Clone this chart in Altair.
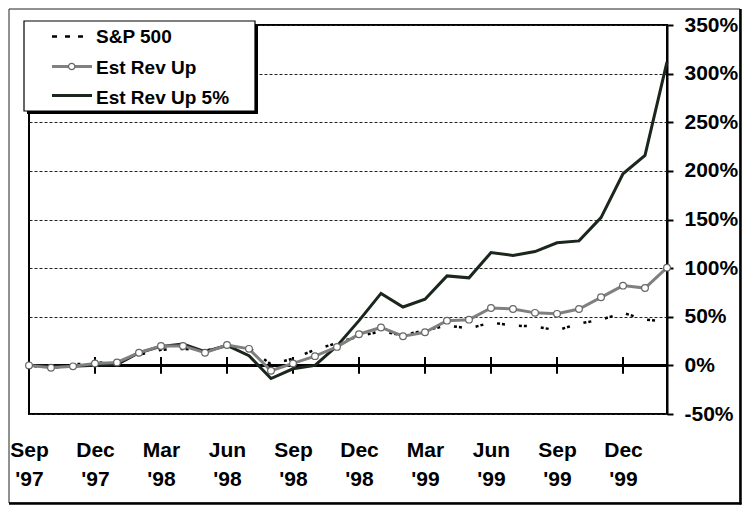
import altair as alt
import pandas as pd

months = ["Sep '97", "Oct '97", "Nov '97", "Dec '97", "Jan '98", "Feb '98", "Mar '98",
          "Apr '98", "May '98", "Jun '98", "Jul '98", "Aug '98", "Sep '98", "Oct '98",
          "Nov '98", "Dec '98", "Jan '99", "Feb '99", "Mar '99", "Apr '99", "May '99",
          "Jun '99", "Jul '99", "Aug '99", "Sep '99", "Oct '99", "Nov '99", "Dec '99",
          "Jan '00", "Feb '00"]
tick_months = ["Sep '97", "Dec '97", "Mar '98", "Jun '98", "Sep '98", "Dec '98",
               "Mar '99", "Jun '99", "Sep '99", "Dec '99"]
series_names = ["S&P 500", "Est Rev Up", "Est Rev Up 5%"]

sp500 = [0, -3, 1, 2.5, 3.5, 11, 16, 17, 15, 20, 18, 1, 7, 16, 23, 30, 35, 31, 36,
         41, 38, 44, 41, 40, 36, 43, 47, 54, 47, 45]
est_rev_up = [0, -2.5, -1, 2, 3, 13, 20, 20, 13, 21, 17, -5.5, 2, 9.5, 19, 32, 39, 30,
              34, 46, 47, 59, 58, 54, 53, 58, 70, 82, 79.5, 100.5]
est_rev_up_5 = [0, -1, -1, 0, 1, 13, 19.5, 22, 14, 20.5, 10, -13.5, -3.5, 0, 20, 46,
                74, 60, 68, 92, 90, 116, 113, 117, 126, 128, 152, 197, 216, 312]
y_ticks = [-50, 0, 50, 100, 150, 200, 250, 300, 350]

FONT = "Liberation Sans"
DARK = "#1b261c"
GRAY = "#808080"

df = pd.DataFrame({"month": months, "sp": sp500, "up": est_rev_up, "up5": est_rev_up_5})
ticks_df = pd.DataFrame({"month": tick_months})

x_scale = alt.Scale(type="point", domain=months, padding=0)
x_axis = alt.Axis(values=tick_months, labelExpr="split(datum.label, ' ')", labelAngle=0,
                  domain=False, ticks=False, tickSize=0, grid=False, labelFont=FONT,
                  labelFontSize=21, labelFontWeight="bold", labelColor="black",
                  labelPadding=25, labelLineHeight=29, title=None)
y_scale = alt.Scale(domain=[-50, 350], nice=False, zero=False)
y_axis = alt.Axis(orient="right", values=y_ticks, labelExpr="datum.value + '%'",
                  grid=True, gridDash=[3, 2], gridColor="#222222", gridWidth=1,
                  domain=True, domainColor="black", domainWidth=2,
                  ticks=True, tickColor="black", tickSize=6, tickWidth=2,
                  labelFont=FONT, labelFontSize=21, labelFontWeight="bold",
                  labelColor="black", labelPadding=11, title=None)


def X(field):
    return alt.X(field, scale=x_scale, axis=x_axis)


def Y(field):
    return alt.Y(field, scale=y_scale, axis=y_axis)


base = alt.Chart(df)

zero_line = alt.Chart(ticks_df).mark_rule(color="black", strokeWidth=2).encode(
    y=alt.datum(0)
)
tick_rules = alt.Chart(ticks_df).mark_rule(color="black", strokeWidth=2).encode(
    x=X("month:O"), y=alt.datum(-8.5), y2=alt.datum(8.5)
)

line5 = base.mark_line(color=DARK, strokeWidth=3).encode(x=X("month:O"), y=Y("up5:Q"))
line_sp = base.mark_line(color="black", strokeWidth=2.5, strokeDash=[3, 2, 3, 14]).encode(
    x=X("month:O"), y=Y("sp:Q"))
line_up = base.mark_line(color=GRAY, strokeWidth=3).encode(x=X("month:O"), y=Y("up:Q"))
pts_up = base.mark_point(shape="circle", filled=True, fill="white", stroke="#666666",
                         strokeWidth=1.2, size=45, opacity=1).encode(
    x=X("month:O"), y=Y("up:Q"))

# legend
one = pd.DataFrame({"k": [0]})
leg_shadow = alt.Chart(one).mark_rect(color="black").encode(
    x=alt.value(-2), x2=alt.value(229), y=alt.value(-1), y2=alt.value(89))
leg_box = alt.Chart(one).mark_rect(fill="white", stroke="black", strokeWidth=1.2).encode(
    x=alt.value(-5), x2=alt.value(226), y=alt.value(-4), y2=alt.value(86))
leg_sym1 = alt.Chart(one).mark_rule(color="black", strokeWidth=2.5, strokeDash=[5, 8]).encode(
    x=alt.value(23), x2=alt.value(56), y=alt.value(11.5))
leg_sym2 = alt.Chart(one).mark_rule(color=GRAY, strokeWidth=3).encode(
    x=alt.value(23), x2=alt.value(63), y=alt.value(41.5))
leg_pt2 = alt.Chart(one).mark_point(shape="circle", filled=True, fill="white", stroke="#666666",
                                    strokeWidth=1.2, size=40, opacity=1).encode(
    x=alt.value(42.7), y=alt.value(41.5))
leg_sym3 = alt.Chart(one).mark_rule(color=DARK, strokeWidth=3).encode(
    x=alt.value(23), x2=alt.value(63), y=alt.value(70.5))
leg_text = []
for name, yy in zip(series_names, [17.7, 49, 79]):
    leg_text.append(
        alt.Chart(pd.DataFrame({"label": [name]})).mark_text(
            font=FONT, fontSize=19, fontWeight="bold", color="black", align="left",
            baseline="alphabetic").encode(x=alt.value(67), y=alt.value(yy), text="label:N"))

# outer frame (kept inside the drawable page area)
frame = alt.Chart(one).mark_rect(fill="transparent", stroke="#222222", strokeWidth=1).encode(
    x=alt.value(-20), x2=alt.value(711), y=alt.value(-16), y2=alt.value(478))
frame_r = alt.Chart(one).mark_rule(color="black", strokeWidth=2.5).encode(
    x=alt.value(711.5), y=alt.value(-16), y2=alt.value(479.5))
frame_b = alt.Chart(one).mark_rule(color="black", strokeWidth=2.5).encode(
    y=alt.value(478.5), x=alt.value(-20), x2=alt.value(712.5))

chart = alt.layer(
    zero_line, tick_rules, line5, line_sp, line_up, pts_up,
    leg_shadow, leg_box, leg_sym1, leg_sym2, leg_pt2, leg_sym3, *leg_text,
    frame, frame_r, frame_b
).properties(
    width=638, height=389,
    padding={"left": 21, "top": 17, "right": 75, "bottom": 91},
    autosize=alt.AutoSizeParams(type="none"),
    background="white",
).configure_view(stroke="black", strokeWidth=2)

chart.save("out.html", embed_options={"renderer": "svg", "actions": False})
